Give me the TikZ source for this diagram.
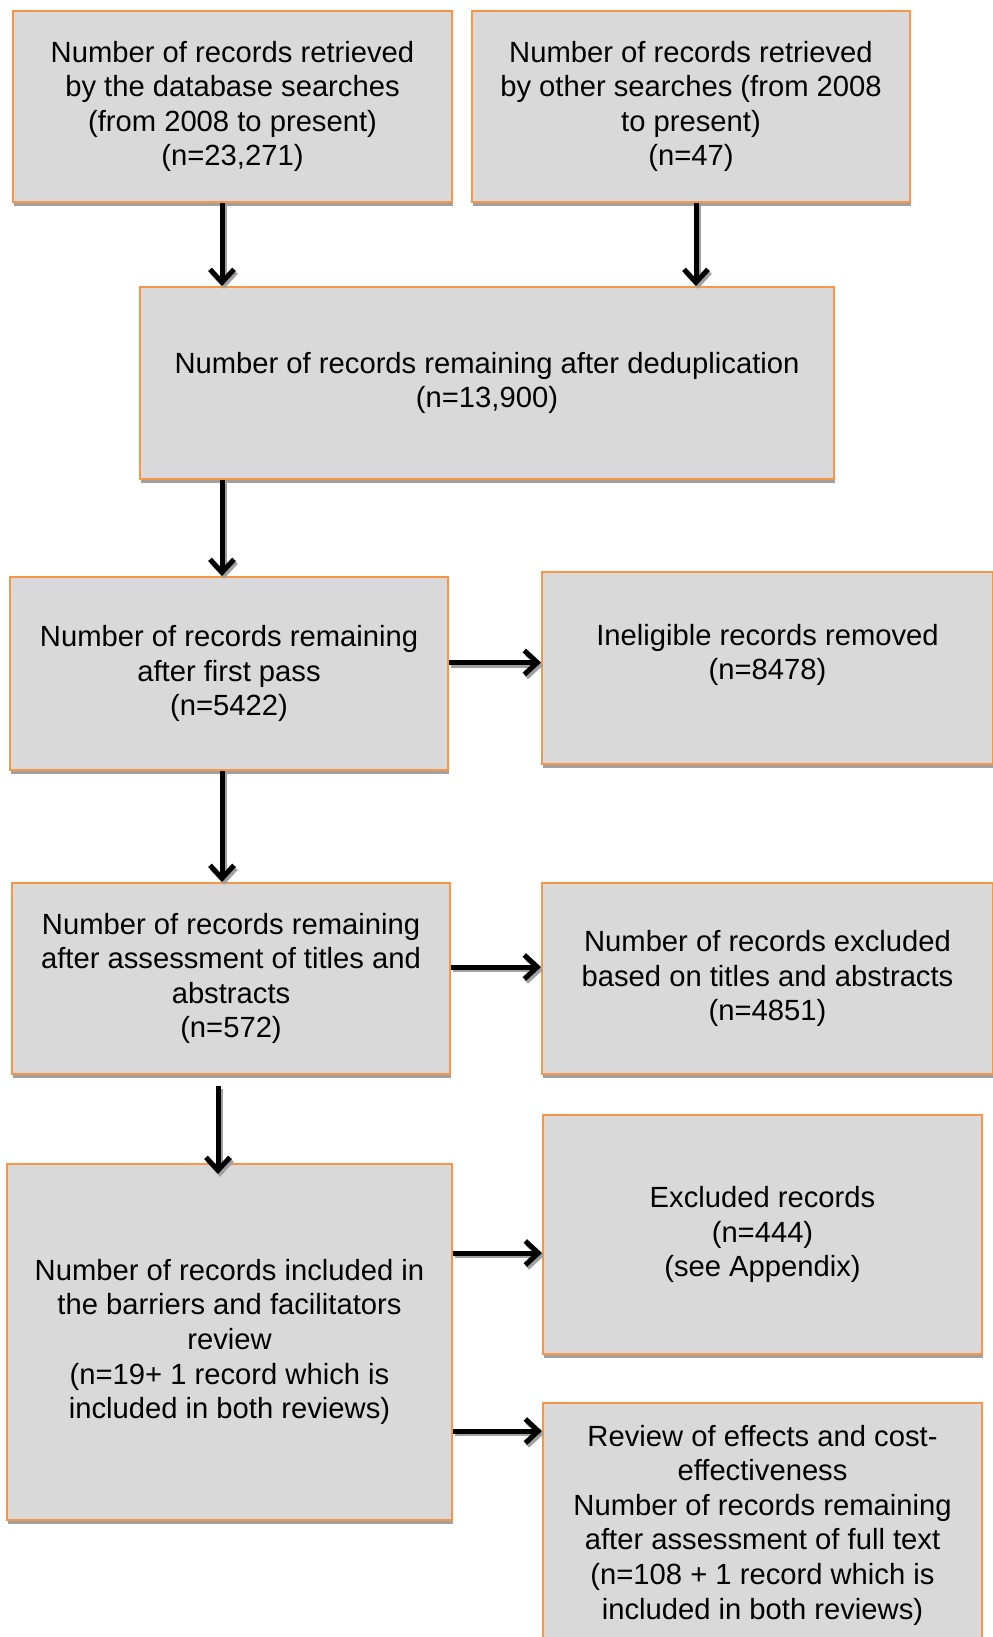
\documentclass[tikz,border=0pt]{standalone}
\usepackage{fontspec}
\setmainfont{Liberation Sans}
\usepackage{xcolor}
\definecolor{boxOrange}{RGB}{247,150,70}
\definecolor{boxGray}{RGB}{217,217,217}
\definecolor{shadowGray}{RGB}{160,160,160}
\usetikzlibrary{arrows.meta,shadows}

\tikzset{
  recbox/.style={draw=boxOrange, fill=boxGray, line width=1pt, align=center, inner sep=0pt,
    font=\fontsize{14.6}{17.3}\selectfont,
    drop shadow={shadow xshift=0.5pt, shadow yshift=-2pt, fill=shadowGray, opacity=1}},
  flow/.style={line width=2.5pt, -{Straight Barb[length=6.5pt,width=12pt]},
    preaction={draw=shadowGray, line width=2.5pt, -{Straight Barb[length=6.5pt,width=12pt]},
      transform canvas={shift={(1pt,-1.4pt)}}}}
}

\begin{document}
\begin{tikzpicture}[x=0.5pt, y=-0.5pt]
			\useasboundingbox (0,0) rectangle (992,1637);

			% Searches
			\node[recbox, minimum width=219.5pt, minimum height=95.5pt] (db) at (232.5,106.5)
				{Number of records retrieved\\by the database searches\\(from 2008 to present)\\(n=23,271)};
			\node[recbox, minimum width=219pt, minimum height=95.5pt] (other) at (691,106.5)
				{Number of records retrieved\\by other searches (from 2008\\to present)\\(n=47)};

			% Deduplication
			\node[recbox, minimum width=347pt, minimum height=96pt] (dedup) at (487,383)
				{Number of records remaining after deduplication\\(n=13,900)};

			% First pass
			\node[recbox, minimum width=219pt, minimum height=96.5pt] (first) at (229,673.5)
				{Number of records remaining\\after first pass\\(n=5422)};
			\node[recbox, minimum width=225.5pt, minimum height=96pt, text depth=16pt] (inelig) at (767.5,668)
				{Ineligible records removed\\(n=8478)};

			% Titles and abstracts
			\node[recbox, minimum width=219pt, minimum height=95.5pt] (titles) at (231,978.5)
				{Number of records remaining\\after assessment of titles and\\abstracts\\ (n=572)};
			\node[recbox, minimum width=225.5pt, minimum height=95.5pt] (exclTitles) at (767.5,978.5)
				{Number of records excluded\\based on titles and abstracts\\(n=4851)};

			% Included records
			\node[recbox, minimum width=222.5pt, minimum height=178pt] (incl) at (229.5,1342)
				{Number of records included in\\the barriers and facilitators\\review\\ (n=19+ 1 record which is\\included in both reviews)};
			\node[recbox, minimum width=219.5pt, minimum height=119.5pt] (excl) at (762.5,1234.5)
				{Excluded records\\ (n=444)\\(see Appendix)};
			\node[recbox, minimum width=219.5pt, minimum height=122pt] (effects) at (762.5,1525)
				{Review of effects and cost-\\effectiveness\\Number of records remaining\\after assessment of full text\\ (n=108 + 1 record which is\\included in both reviews)};

			% Arrows down
			\draw[flow] ([xshift=-5.25pt]db.south) -- ([xshift=-5.25pt]db.south |- dedup.north);
			\draw[flow] ([xshift=2.5pt]other.south) -- ([xshift=2.5pt]other.south |- dedup.north);
			\draw[flow] (dedup.south -| first.north) ++(-3.5pt,0) coordinate (d1) (d1) -- (d1 |- first.north);
			\draw[flow] ([xshift=-3.5pt]first.south) -- ([xshift=-3.5pt]first.south |- titles.north);
			\draw[flow] ([xshift=-6.5pt,yshift=-5.5pt]titles.south) -- ([xshift=-6.5pt,yshift=-5.5pt]titles.south |- incl.north);

			% Arrows right
			\draw[flow] ([yshift=5.5pt]first.east) -- ([yshift=5.5pt]first.east -| inelig.west);
			\draw[flow] ([yshift=5.75pt]titles.east) -- ([yshift=5.75pt]titles.east -| exclTitles.west);
			\draw[flow] ([yshift=44.5pt]incl.east) -- ([yshift=44.5pt]incl.east -| excl.west);
			\draw[flow] ([yshift=-44.5pt]incl.east) -- ([yshift=-44.5pt]incl.east -| effects.west);
		\end{tikzpicture}
\end{document}
